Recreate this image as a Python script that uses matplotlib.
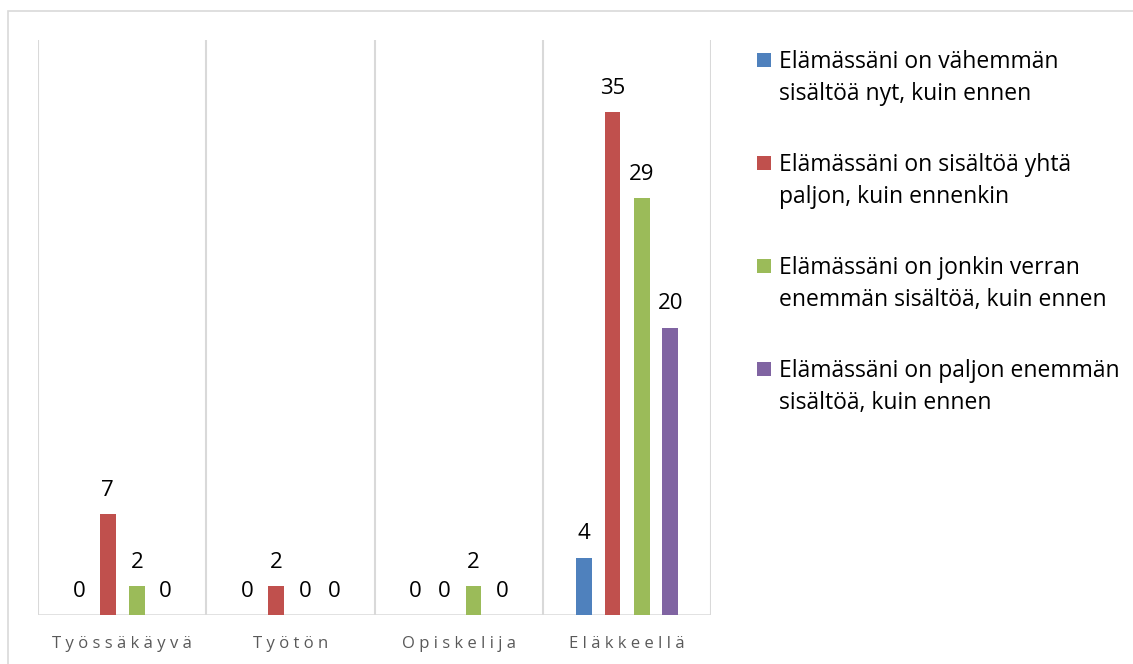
import matplotlib.pyplot as plt
from matplotlib.patches import Rectangle
import numpy as np

plt.rcParams['font.family'] = ['Open Sans', 'DejaVu Sans']

categories = ["Työssäkäyvä", "Työtön", "Opiskelija", "Eläkkeellä"]
series_names = [
    "Elämässäni on vähemmän\nsisältöä nyt, kuin ennen",
    "Elämässäni on sisältöä yhtä\npaljon, kuin ennenkin",
    "Elämässäni on jonkin verran\nenemmän sisältöä, kuin ennen",
    "Elämässäni on paljon enemmän\nsisältöä, kuin ennen",
]
less_content = [0, 0, 0, 4]
same_content = [7, 2, 0, 35]
somewhat_more = [2, 0, 2, 29]
much_more = [0, 0, 0, 20]
series_values = [less_content, same_content, somewhat_more, much_more]
colors = ["#4f81bd", "#c0504d", "#9bbb59", "#8064a2"]

W, H = 1133, 664
fig = plt.figure(figsize=(W / 100, H / 100), dpi=100)
# outer chart border
fig.patches.append(Rectangle((8 / W, -0.1), 1.2, (H - 11) / H + 0.1,
                             transform=fig.transFigure, fill=False,
                             edgecolor="#d9d9d9", linewidth=1.2))

ax = fig.add_axes([38 / W, 49 / H, 673 / W, 575 / H])
x = np.arange(len(categories))
offsets = [-0.256, -0.085, 0.088, 0.258]
width = 0.093
grid_c = "#d9d9d9"

for vals, off, col in zip(series_values, offsets, colors):
    bars = ax.bar(x + off, vals, width=width, color=col, zorder=3)
    for b, v in zip(bars, vals):
        ax.annotate(str(v), (b.get_x() + b.get_width() / 2, v),
                    xytext=(0, 13), textcoords="offset points",
                    ha="center", va="baseline", fontsize=16, color="black")

ax.set_xlim(-0.5, len(categories) - 0.5)
ax.set_ylim(0, 40)
for b in np.arange(len(categories) + 1) - 0.5:
    ax.axvline(b, color=grid_c, linewidth=1.5, zorder=1)
ax.axhline(0, color=grid_c, linewidth=1.8, zorder=2)
for s in ax.spines.values():
    s.set_visible(False)
ax.set_yticks([])
ax.set_xticks(x)
ax.set_xticklabels([" ".join(c) for c in categories], fontsize=12,
                   color="#595959")
ax.tick_params(axis="x", length=0, pad=15)

# legend: square key aligned with the first line of each two-line label
step = 103
for i, (name, col) in enumerate(zip(series_names, colors)):
    base = 68 + step * i
    fig.patches.append(Rectangle((757 / W, 1 - (base - 1) / H), 14 / W, 14 / H,
                                 transform=fig.transFigure, facecolor=col,
                                 edgecolor="none"))
    for j, line in enumerate(name.split("\n")):
        fig.text(779 / W, 1 - (base + 32 * j) / H, line, fontsize=16.5,
                 ha="left", va="baseline", color="black")

fig.savefig("out.png", dpi=100)
